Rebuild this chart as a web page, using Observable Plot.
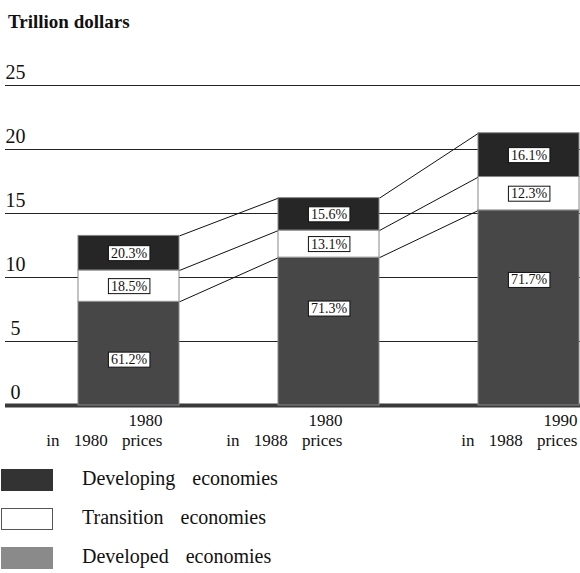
<!DOCTYPE html>
<html><head><meta charset="utf-8">
<script src="https://cdn.jsdelivr.net/npm/d3@7"></script>
<script src="https://cdn.jsdelivr.net/npm/@observablehq/plot@0.6"></script>
<style>
html,body{margin:0;padding:0;background:#fff;}
body{width:580px;height:573px;overflow:hidden;font-family:"Liberation Serif","Times New Roman",serif;color:#111;}
#head{height:40px;box-sizing:border-box;padding-top:11px;padding-left:8px;font-size:19px;font-weight:bold;line-height:22px;}
#chart svg{display:block;}
.legend-row{display:flex;height:39px;}
.sw{width:52px;height:22px;margin-top:4px;margin-left:1px;box-sizing:border-box;}
.lt{margin-left:29px;font-size:20px;line-height:26px;word-spacing:12px;color:#111;}
</style></head><body>
<div id="head">Trillion dollars</div>
<div id="chart"></div>
<div id="legend"></div>
<script>
// ---- data ----
const categories = ["1980", "1980", "1990"];
const priceBases = ["in 1980 prices", "in 1988 prices", "in 1988 prices"];
const seriesNames = ["Developing economies", "Transition economies", "Developed economies"];
const developed = [8.1, 11.55, 15.24];
const transition = [2.45, 2.12, 2.61];
const developing = [2.7, 2.53, 3.42];
const developedPct = ["61.2%", "71.3%", "71.7%"];
const transitionPct = ["18.5%", "13.1%", "12.3%"];
const developingPct = ["20.3%", "15.6%", "16.1%"];
const yTicks = [0, 5, 10, 15, 20, 25];

// ---- styling ----
const barColors = ["#262626", "#ffffff", "#474747"];
const legendColors = ["#333333", "#ffffff", "#8a8a8a"];
const hw = 0.2525;

const rows = [];
const tops = [];
categories.forEach((c, i) => {
  let base = 0;
  const t = [];
  [[seriesNames[2], developed[i], developedPct[i]],
   [seriesNames[1], transition[i], transitionPct[i]],
   [seriesNames[0], developing[i], developingPct[i]]].forEach(([s, v, p]) => {
    rows.push({i, series: s, y1: base, y2: base + v, pct: p});
    base += v;
    t.push(base);
  });
  tops.push(t);
});
const links = [];
for (let i = 0; i < categories.length - 1; i++) {
  for (let k = 0; k < 3; k++) {
    links.push({x1: i + hw, x2: i + 1 - hw, y1: tops[i][k], y2: tops[i + 1][k]});
  }
}
const devDy = [6, -23, -28];
const labelDx = [33.5, 13.5, 48.5];

const plot = Plot.plot({
  width: 580,
  height: 425,
  marginLeft: 5,
  marginRight: 0,
  marginTop: 0,
  marginBottom: 0,
  style: {fontFamily: '"Liberation Serif","Times New Roman",serif', background: "#fff"},
  x: {type: "linear", domain: [-0.6175, 2.2575], range: [5, 580], axis: null},
  y: {domain: [0, 25], range: [365, 45], axis: null},
  color: {domain: seriesNames, range: barColors},
  marks: [
    Plot.ruleY(yTicks.filter(d => d > 0), {stroke: "#222", strokeWidth: 1.2}),
    Plot.ruleY([0], {stroke: "#3a3a3a", strokeWidth: 4}),
    Plot.text(yTicks, {y: d => d, text: d => String(d), frameAnchor: "left", textAnchor: "middle", dx: 10, dy: -7, lineAnchor: "bottom", fontSize: 20, fill: "#111"}),
    Plot.link(links, {x1: "x1", y1: "y1", x2: "x2", y2: "y2", stroke: "#111", strokeWidth: 1}),
    Plot.rect(rows, {x1: d => d.i - hw, x2: d => d.i + hw, y1: "y1", y2: "y2", fill: "series", stroke: "#888", strokeWidth: 1}),
    Plot.text(rows.filter(d => d.series !== seriesNames[2]), {x: "i", y: d => (d.y1 + d.y2) / 2, text: "pct", fontSize: 14, fill: "#111"}),
    ...categories.map((c, i) => Plot.text(rows.filter(d => d.i === i && d.series === seriesNames[2]), {x: "i", y: d => (d.y1 + d.y2) / 2, text: "pct", fontSize: 14, fill: "#111", dy: devDy[i]})),
    ...categories.map((c, i) => Plot.text([i], {x: d => d, y: () => 0, text: d => categories[d] + "\n" + priceBases[d], textAnchor: "end", lineAnchor: "top", lineHeight: 1.18, dx: labelDx[i], dy: 6, fontSize: 17, fill: "#111"}))
  ]
});
document.getElementById("chart").appendChild(plot);

// wide word spacing on the category labels
plot.querySelectorAll("text").forEach(t => {
  if (t.textContent.includes("prices")) t.style.wordSpacing = "10px";
});

// white boxes with border behind the percentage labels
plot.querySelectorAll("text").forEach(t => {
  if (!t.textContent.trim().endsWith("%")) return;
  const b = t.getBBox();
  const cy = b.y + b.height / 2;
  const r = document.createElementNS("http://www.w3.org/2000/svg", "rect");
  r.setAttribute("x", b.x - 2.5);
  r.setAttribute("y", cy - 7.5);
  r.setAttribute("width", b.width + 5);
  r.setAttribute("height", 15);
  r.setAttribute("fill", "#fff");
  r.setAttribute("stroke", "#111");
  r.setAttribute("stroke-width", 1);
  const tr = t.getAttribute("transform");
  if (tr) r.setAttribute("transform", tr);
  t.parentNode.insertBefore(r, t);
});

// legend
const leg = document.getElementById("legend");
seriesNames.forEach((s, k) => {
  const row = document.createElement("div");
  row.className = "legend-row";
  const sw = document.createElement("div");
  sw.className = "sw";
  sw.style.background = legendColors[k];
  if (k === 1) sw.style.border = "1px solid #555";
  const lt = document.createElement("div");
  lt.className = "lt";
  lt.textContent = s;
  row.appendChild(sw);
  row.appendChild(lt);
  leg.appendChild(row);
});
</script>
</body></html>
